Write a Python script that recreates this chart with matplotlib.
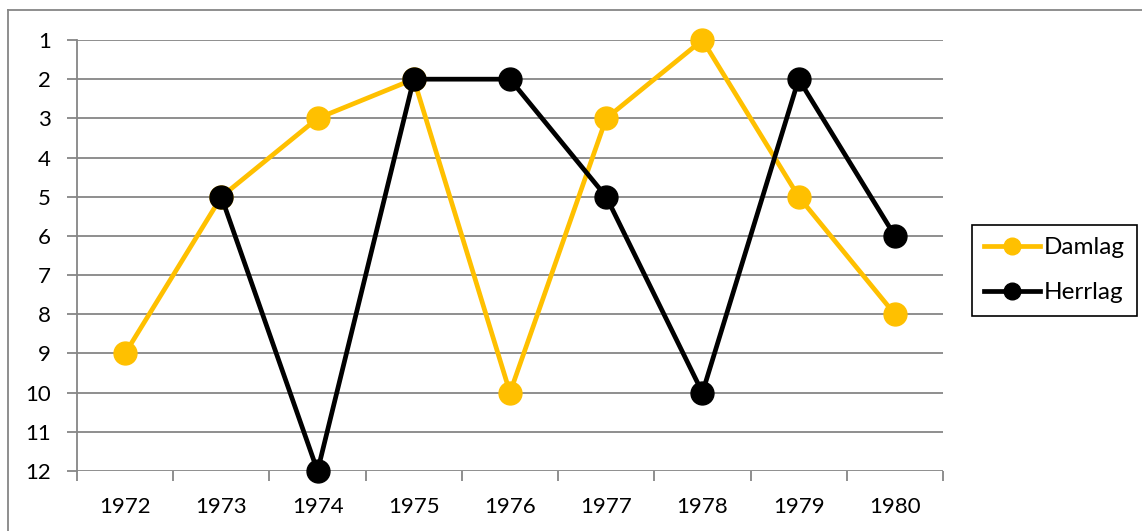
import matplotlib.pyplot as plt
import numpy as np
from matplotlib.lines import Line2D

years = ['1972', '1973', '1974', '1975', '1976', '1977', '1978', '1979', '1980']
damlag = [9, 5, 3, 2, 10, 3, 1, 5, 8]
herrlag = [np.nan, 5, 12, 2, 2, 5, 10, 2, 6]

plt.rcParams['font.family'] = ['Lato', 'DejaVu Sans']

fig = plt.figure(figsize=(11.42, 5.31), dpi=100)
ax = fig.add_axes([77 / 1142, 1 - 471 / 531, 866 / 1142, 431 / 531])

x = np.arange(len(years))
ax.plot(x, damlag, color='#FFC000', lw=3.4, marker='o', ms=16.5, label='Damlag', zorder=3, clip_on=False)
ax.plot(x, herrlag, color='black', lw=3.4, marker='o', ms=16.5, label='Herrlag', zorder=4, clip_on=False)

ax.set_xlim(-0.5, len(years) - 0.5)
ax.set_ylim(12, 1)
ax.set_yticks(range(1, 13))
ax.set_xticks(x)
ax.set_xticklabels(years)
ax.set_xticks(np.arange(-0.5, len(years)), minor=True)
ax.tick_params(axis='x', which='major', length=0, pad=19, labelsize=16)
ax.tick_params(axis='x', which='minor', length=7, color='#868686', width=1.3)
ax.tick_params(axis='y', length=7, color='#868686', width=1.3, pad=12, labelsize=16)

ax.grid(axis='y', color='#868686', lw=1.3)
ax.set_axisbelow(True)
for s in ['top', 'right', 'bottom']:
    ax.spines[s].set_visible(False)
ax.spines['left'].set_color('#868686')
ax.spines['left'].set_linewidth(1.3)
ax.spines['left'].set_bounds(12, 1)

handles = [Line2D([], [], color='#FFC000', lw=3.4, marker='o', ms=12),
           Line2D([], [], color='black', lw=3.4, marker='o', ms=12)]
leg = fig.legend(handles, ['Damlag', 'Herrlag'], loc='upper left',
                 bbox_to_anchor=(972 / 1142, 1 - 225 / 531), fontsize=17.5,
                 fancybox=False, edgecolor='black', handlelength=2.3, handletextpad=0.15,
                 borderpad=0.5, labelspacing=1.0, borderaxespad=0, framealpha=1)
leg.get_frame().set_linewidth(1.2)

# outer chart border
fig.add_artist(Line2D([8 / 1142, 8 / 1142], [0, 1 - 10 / 531], color='#868686', lw=1.3))
fig.add_artist(Line2D([8 / 1142, 1], [1 - 10 / 531, 1 - 10 / 531], color='#868686', lw=1.3))

fig.savefig('out.png', dpi=100)
